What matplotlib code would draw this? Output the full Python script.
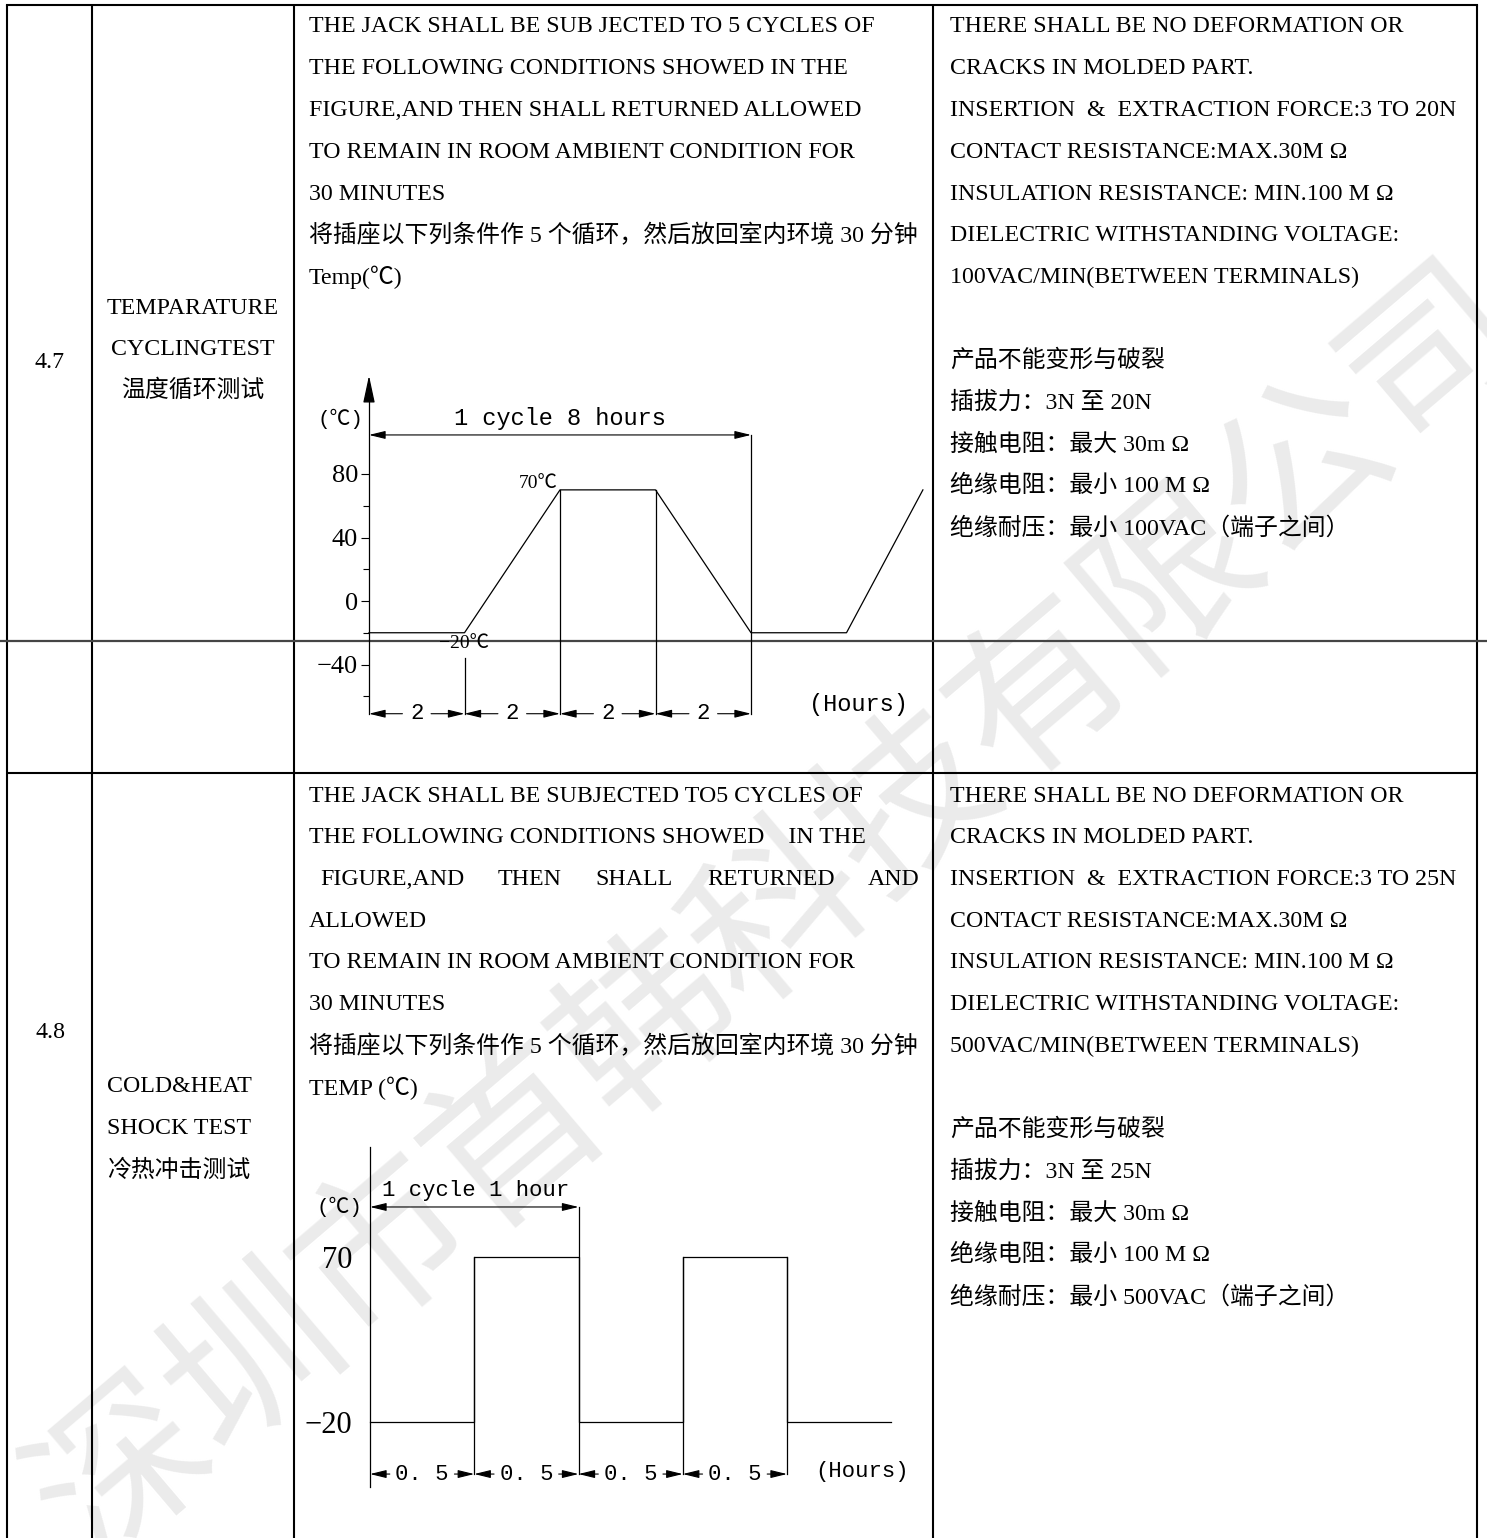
import matplotlib
matplotlib.use('Agg')
import matplotlib.pyplot as plt

W, H = 1487, 1538
SERIF = ['Liberation Serif', 'Noto Sans CJK SC']
MONO = ['Liberation Mono', 'Noto Sans CJK SC']

# ---- table text ----
item_numbers = ['4.7', '4.8']
names_47 = ['TEMPARATURE', 'CYCLINGTEST', '温度循环测试']
names_48 = ['COLD&HEAT', 'SHOCK TEST', '冷热冲击测试']

desc_47 = ['THE JACK SHALL BE SUB JECTED TO 5 CYCLES OF',
           'THE FOLLOWING CONDITIONS SHOWED IN THE',
           'FIGURE,AND THEN SHALL RETURNED ALLOWED',
           'TO REMAIN IN ROOM AMBIENT CONDITION FOR',
           '30 MINUTES',
           '将插座以下列条件作 5 个循环，然后放回室内环境 30 分钟',
           'Temp(℃)']
req_47 = ['THERE SHALL BE NO DEFORMATION OR',
          'CRACKS IN MOLDED PART.',
          'INSERTION  &  EXTRACTION FORCE:3 TO 20N',
          'CONTACT RESISTANCE:MAX.30M Ω',
          'INSULATION RESISTANCE: MIN.100 M Ω',
          'DIELECTRIC WITHSTANDING VOLTAGE:',
          '100VAC/MIN(BETWEEN TERMINALS)',
          '',
          '产品不能变形与破裂',
          '插拔力：3N 至 20N',
          '接触电阻：最大 30m Ω',
          '绝缘电阻：最小 100 M Ω',
          '绝缘耐压：最小 100VAC（端子之间）']
desc_48 = ['THE JACK SHALL BE SUBJECTED TO5 CYCLES OF',
           'THE FOLLOWING CONDITIONS SHOWED    IN THE',
           ['FIGURE,AND', 'THEN', 'SHALL', 'RETURNED', 'AND'],
           'ALLOWED',
           'TO REMAIN IN ROOM AMBIENT CONDITION FOR',
           '30 MINUTES',
           '将插座以下列条件作 5 个循环，然后放回室内环境 30 分钟',
           'TEMP (℃)']
req_48 = ['THERE SHALL BE NO DEFORMATION OR',
          'CRACKS IN MOLDED PART.',
          'INSERTION  &  EXTRACTION FORCE:3 TO 25N',
          'CONTACT RESISTANCE:MAX.30M Ω',
          'INSULATION RESISTANCE: MIN.100 M Ω',
          'DIELECTRIC WITHSTANDING VOLTAGE:',
          '500VAC/MIN(BETWEEN TERMINALS)',
          '',
          '产品不能变形与破裂',
          '插拔力：3N 至 25N',
          '接触电阻：最大 30m Ω',
          '绝缘电阻：最小 100 M Ω',
          '绝缘耐压：最小 500VAC（端子之间）']
watermark = '深圳市首韩科技有限公司'

# ---- 4.7 temperature cycling profile (hours, degC) ----
cyc_hours = [0, 2, 4, 6, 8, 10, 11.6]
cyc_temp = [-20, -20, 70, 70, -20, -20, 70]
cyc_ticks = [80, 40, 0, -40]
cyc_minor = [60, 20, -20, -60]
cyc_marks = [0, 2, 4, 6, 8]
cyc_mark_tops = [-36, 70, 70, 104.6]
cyc_span_labels = ['2', '2', '2', '2']
cyc_cycle_level = 104.6
cyc_dim_level = -71
cyc_axis_top = 142

# ---- 4.8 cold / heat shock profile ----
shock_hours = [0, 0.5, 1.0, 1.5, 2.0, 2.5]
shock_temp = [-20, 70, -20, 70, -20, -20]
shock_ticks = [70, -20]
shock_marks = [0, 0.5, 1.0, 1.5, 2.0]
shock_mark_tops = [70, 97.5, 70, 70]
shock_span_labels = ['0. 5', '0. 5', '0. 5', '0. 5']
shock_cycle_level = 97.5
shock_dim_level = -48.2

fig = plt.figure(figsize=(W / 100, H / 100), dpi=100)
tax = fig.add_axes([0, 0, 1, 1])
tax.set_xlim(0, W)
tax.set_ylim(H, 0)
tax.axis('off')

# watermark under everything
tax.text(780, 915, watermark, rotation=40.4, fontsize=124, color='#ebebeb',
         ha='center', va='center', family='Noto Sans CJK SC', weight='normal',
         rotation_mode='anchor', zorder=0)

# table grid
cols = [7, 92, 294, 933, 1477]
for x in cols:
    tax.plot([x, x], [5, H], color='k', lw=1.5, solid_capstyle='butt')
tax.plot([cols[0], cols[-1]], [5, 5], color='k', lw=1.5, solid_capstyle='projecting')
tax.plot([cols[0], cols[-1]], [773, 773], color='k', lw=1.5, solid_capstyle='butt')
tax.plot([0, W], [640.5, 640.5], color='#454545', lw=1.6, solid_capstyle='butt', zorder=5)

fs = 17.2
tax.text(50, 362, item_numbers[0], fontsize=fs, family=SERIF, ha='center', va='center')
tax.text(50, 1033, item_numbers[1], fontsize=fs, family=SERIF, ha='center', va='center')
for i, s in enumerate(names_47):
    tax.text(193, 308 + i * 41.5, s, fontsize=fs, family=SERIF, ha='center', va='center')
for i, s in enumerate(names_48):
    tax.text(107, 1087 + i * 42, s, fontsize=fs, family=SERIF, ha='left', va='center')

renderer = fig.canvas.get_renderer()


def write_block(lines, x, y0, step=41.75, right=920):
    for i, s in enumerate(lines):
        y = y0 + i * step
        if isinstance(s, list):
            arts = [tax.text(0, y, w, fontsize=fs, family=SERIF, ha='left', va='center') for w in s]
            widths = [a.get_window_extent(renderer).width for a in arts]
            x_start = x + 11
            gap = (right - x_start - sum(widths)) / (len(s) - 1)
            cx = x_start
            for a, wdt in zip(arts, widths):
                a.set_x(cx)
                cx += wdt + gap
        elif s:
            tax.text(x, y, s, fontsize=fs, family=SERIF, ha='left', va='center')


write_block(desc_47, 309, 27)
write_block(req_47, 950, 27)
write_block(desc_48, 309, 796)
write_block(req_48, 950, 796)


def chart_axes(box, x0, xs, y0, ys):
    # box in pixels (left, top, right, bottom); value v -> x0 + xs*v, y0 - ys*v
    l, t, r, b = box
    ax = fig.add_axes([l / W, 1 - b / H, (r - l) / W, (b - t) / H])
    ax.set_xlim((l - x0) / xs, (r - x0) / xs)
    ax.set_ylim((y0 - b) / ys, (y0 - t) / ys)
    ax.patch.set_visible(False)
    for sp in ax.spines.values():
        sp.set_visible(False)
    ax.set_xticks([])
    ax.set_yticks([])
    return ax


def dims(ax, marks, labels, level, gap):
    head = dict(arrowstyle='-|>,head_length=0.9,head_width=0.22', color='k', lw=0.8,
                shrinkA=0, shrinkB=0, mutation_scale=11)
    for a, b, lab in zip(marks[:-1], marks[1:], labels):
        m = (a + b) / 2
        ax.annotate('', xy=(a, level), xytext=(m - gap, level), arrowprops=head)
        ax.annotate('', xy=(b, level), xytext=(m + gap, level), arrowprops=head)
        ax.text(m, level, lab, fontsize=16, family=MONO, ha='center', va='center')


def axis_line(ax, lo, hi):
    sp = ax.spines['left']
    sp.set_visible(True)
    sp.set_position(('data', 0))
    sp.set_bounds(lo, hi)
    sp.set_linewidth(0.9)


# ---- chart 4.7 ----
ax1 = chart_axes((300, 362, 934, 772), 369, 47.75, 601, 1.5875)
ax1.plot(cyc_hours, cyc_temp, color='k', lw=0.9)
axis_line(ax1, cyc_dim_level, cyc_axis_top - 8)
ax1.set_yticks(cyc_ticks, labels=[f'{v:g}'.replace('-', '−') for v in cyc_ticks],
               fontsize=19, family=SERIF)
ax1.set_yticks(cyc_minor, minor=True)
ax1.tick_params(axis='y', which='major', direction='out', length=6, width=0.8, pad=2)
ax1.tick_params(axis='y', which='minor', direction='out', length=4, width=0.8)
ax1.annotate('', xy=(0, cyc_axis_top), xytext=(0, cyc_axis_top - 12),
             arrowprops=dict(arrowstyle='-|>,head_length=1.4,head_width=0.3', color='k',
                             lw=0.9, shrinkA=0, shrinkB=0, mutation_scale=12))
for t, top in zip(cyc_marks[1:], cyc_mark_tops):
    ax1.plot([t, t], [cyc_dim_level, top], color='k', lw=0.9)
ax1.annotate('', xy=(cyc_marks[0], cyc_cycle_level), xytext=(cyc_marks[-1], cyc_cycle_level),
             arrowprops=dict(arrowstyle='<|-|>,head_length=0.9,head_width=0.22', color='k',
                             lw=0.8, shrinkA=0, shrinkB=0, mutation_scale=11))
ax1.text(4, 115, '1 cycle 8 hours', fontsize=17, family=MONO, ha='center', va='center')
ax1.text(-0.6, 115, '(℃)', fontsize=15, family=MONO, ha='center', va='center')
ax1.text(3.95, 74, '70℃', fontsize=14, family=SERIF, ha='right', va='center')
ax1.text(2, -27, '−20℃', fontsize=14, family=SERIF, ha='center', va='center')
ax1.text(10.25, -65.5, '(Hours)', fontsize=17, family=MONO, ha='center', va='center')
dims(ax1, cyc_marks, cyc_span_labels, cyc_dim_level, 0.3)

# ---- chart 4.8 ----
ax2 = chart_axes((300, 1130, 934, 1538), 370, 208.5, 1385.7, 1.833)
ax2.plot(shock_hours, shock_temp, color='k', lw=0.9, drawstyle='steps-post')
axis_line(ax2, -55, 130)
ax2.set_yticks(shock_ticks, labels=[f'{v:g}'.replace('-', '−') for v in shock_ticks],
               fontsize=22, family=SERIF)
ax2.tick_params(axis='y', length=0, pad=13)
for t, top in zip(shock_marks[1:], shock_mark_tops):
    ax2.plot([t, t], [shock_dim_level, top], color='k', lw=0.9)
ax2.annotate('', xy=(shock_marks[0], shock_cycle_level), xytext=(shock_marks[2], shock_cycle_level),
             arrowprops=dict(arrowstyle='<|-|>,head_length=0.9,head_width=0.22', color='k',
                             lw=0.8, shrinkA=0, shrinkB=0, mutation_scale=11))
ax2.text(0.058, 106.7, '1 cycle 1 hour', fontsize=16, family=MONO, ha='left', va='center')
ax2.text(-0.145, 97.5, '(℃)', fontsize=15, family=MONO, ha='center', va='center')
ax2.text(2.36, -47, '(Hours)', fontsize=16, family=MONO, ha='center', va='center')
dims(ax2, shock_marks, shock_span_labels, shock_dim_level, 0.155)

fig.savefig('out.png', dpi=100)
